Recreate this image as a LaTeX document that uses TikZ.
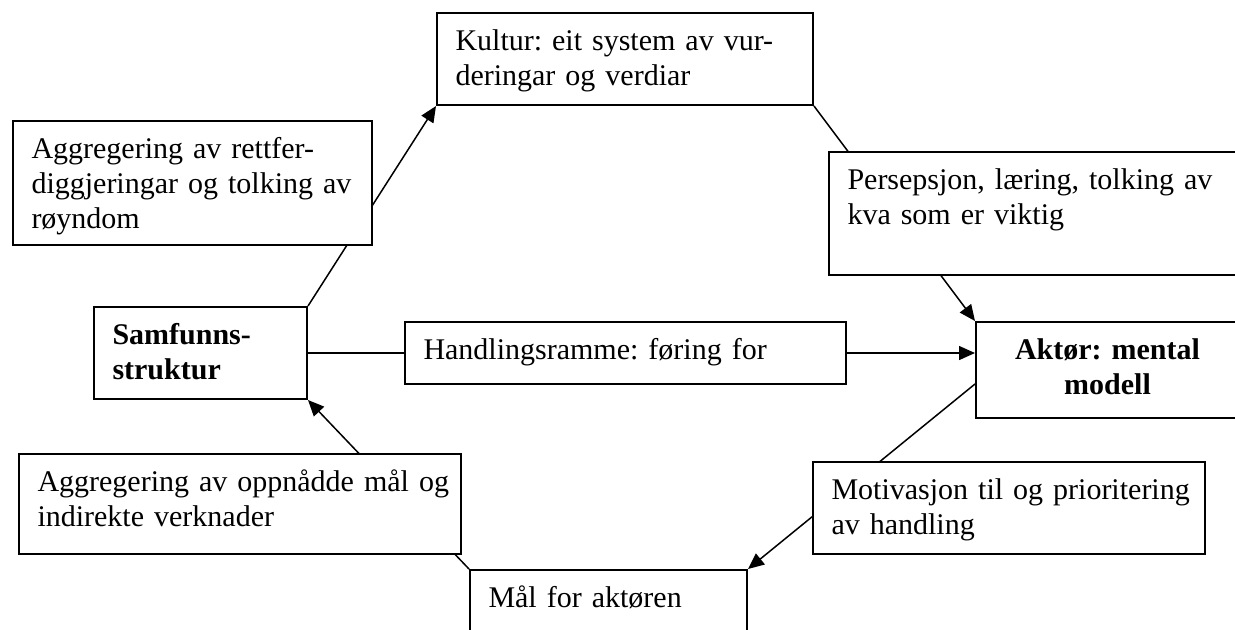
\documentclass[tikz,border=0pt]{standalone}
\usepackage{fontspec}
\setmainfont{Liberation Serif}
\usepackage{tikz}
\usetikzlibrary{arrows.meta,backgrounds}
\tikzset{
  >={Triangle[length=6.4pt,width=5.6pt]},
  % boksar
  bks/.style={draw=black,fill=white,line width=0.8pt,anchor=north west,
              align=left,inner xsep=7.4pt,inner ysep=0pt,text height=14.8pt,
              font=\fontsize{12pt}{14pt}\selectfont\frenchspacing},
  hbks/.style={bks,font=\fontsize{12pt}{14pt}\selectfont\frenchspacing\bfseries},
  % piler
  pil/.style={draw=black,line width=0.6pt},
}
\begin{document}
\begin{tikzpicture}[x=0.4pt,y=-0.4pt]
\useasboundingbox (0,0) rectangle (1235,629);
  \node[bks,text width=135.6pt,text depth=22pt] (kultur) at (436,12)
    {\mbox{Kultur: eit system av vur-}\\deringar og verdiar};
  \node[bks,text width=128.8pt,text depth=34.8pt] (aggrett) at (12,120)
    {\mbox{Aggregering av rettfer-}\\\mbox{diggjeringar og tolking av}\\røyndom};
  \node[bks,text width=154pt,text depth=34.4pt] (persep) at (828,151)
    {\mbox{Persepsjon, læring, tolking av}\\kva som er viktig};
  \node[hbks,text width=70.4pt,text depth=22pt] (samf) at (93,306)
    {Samfunns-\\struktur};
  \node[bks,text width=161.6pt,text depth=10pt] (handl) at (404,321)
    {Handlingsramme: føring for};
  \node[hbks,align=center,text width=90.4pt,text depth=23.6pt] (aktor) at (975,321)
    {Aktør: mental\\modell};
  \node[bks,text width=162pt,text depth=25.2pt] (aggmal) at (18,453)
    {\mbox{Aggregering av oppnådde mål og}\\indirekte verknader};
  \node[bks,text width=142pt,text depth=22pt] (motiv) at (812,461)
    {\mbox{Motivasjon til og prioritering}\\av handling};
  \node[bks,text width=96pt,text depth=21.6pt] (maal) at (469,569)
    {Mål for aktøren};
  \begin{scope}[on background layer]
  \draw[pil,->] (samf.north east) -- (kultur.south west);
  \draw[pil,->] (kultur.south east) -- (aktor.north west);
  \draw[pil,->] (samf.east) -- (samf.east -| aktor.west);
  \draw[pil,->] ([yshift=-5.6pt]aktor.west) -- (maal.north east);
  \draw[pil,->] (maal.north west) -- (samf.south east);
  \end{scope}
\end{tikzpicture}
\end{document}
